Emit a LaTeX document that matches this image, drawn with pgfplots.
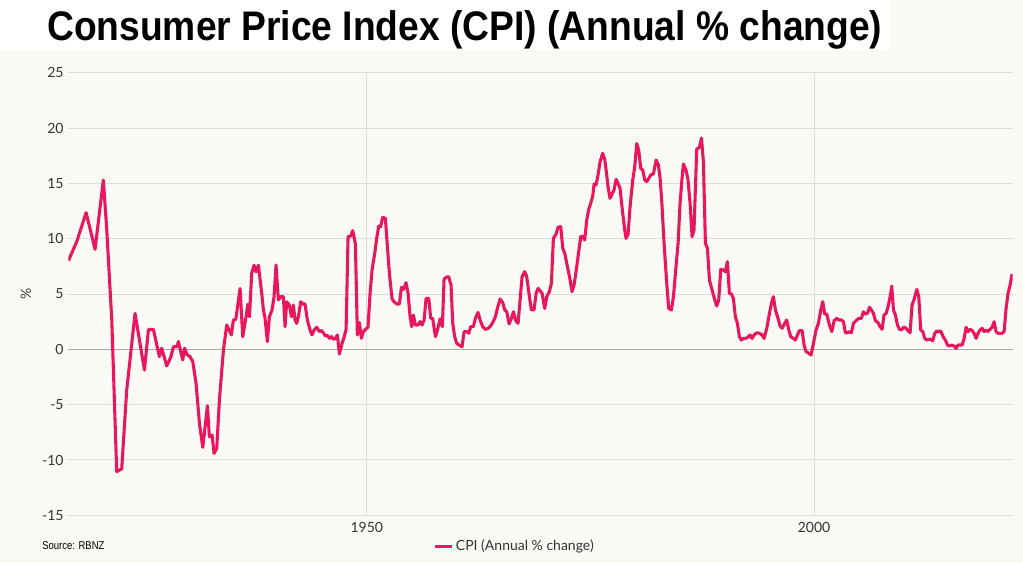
\documentclass[border=0pt]{standalone}
\usepackage{graphicx}
\usepackage{pgfplots}
\pgfplotsset{compat=1.18}
\usepackage{fontspec}
\setmainfont{Lato}
\newfontfamily\titlefont{Liberation Sans}
\definecolor{cpi}{HTML}{E8175D}
\definecolor{bg}{HTML}{F9F9F6}
\definecolor{gridc}{HTML}{DCDCD9}
\definecolor{zeroc}{HTML}{A9A9A6}
\definecolor{tickc}{HTML}{333333}
\pgfplotstableread{
year value
1916.65 8.01
1917.58 9.73
1918.63 12.35
1919.63 9.04
1920.56 15.30
1920.94 10.80
1921.50 2.65
1922.05 -11.05
1922.61 -10.80
1923.17 -3.67
1924.10 3.25
1925.15 -1.87
1925.60 1.80
1926.15 1.80
1926.82 -0.66
1927.08 0.10
1927.64 -1.50
1928.09 -0.72
1928.39 0.24
1928.76 0.24
1928.95 0.70
1929.43 -0.96
1929.65 0.10
1929.88 -0.45
1930.25 -0.66
1930.55 -1.10
1930.92 -3.07
1931.30 -6.70
1931.67 -8.86
1932.19 -5.10
1932.41 -7.90
1932.71 -7.74
1932.93 -9.40
1933.23 -8.95
1933.53 -4.58
1933.98 -0.06
1934.35 2.20
1934.87 1.30
1935.09 2.65
1935.36 2.70
1935.84 5.50
1936.14 1.14
1936.51 2.95
1936.70 4.07
1936.89 2.95
1937.14 6.87
1937.40 7.60
1937.63 7.00
1937.89 7.60
1938.26 5.06
1938.45 3.56
1938.63 2.80
1938.89 0.70
1939.12 2.95
1939.41 3.56
1939.64 4.76
1939.86 7.62
1940.12 4.46
1940.38 4.76
1940.68 4.76
1940.87 2.05
1941.05 4.30
1941.35 4.00
1941.58 2.95
1941.80 4.00
1941.98 2.65
1942.17 2.35
1942.36 2.95
1942.62 4.30
1942.84 4.10
1943.10 4.10
1943.36 2.65
1943.66 1.75
1943.88 1.30
1944.11 1.75
1944.41 2.00
1944.70 1.60
1944.93 1.70
1945.15 1.50
1945.38 1.20
1945.60 1.27
1945.82 1.00
1946.05 1.15
1946.27 0.90
1946.49 1.00
1946.72 1.30
1946.94 -0.42
1947.24 0.54
1947.46 1.08
1947.69 1.80
1947.91 10.18
1948.21 10.24
1948.43 10.73
1948.73 9.52
1948.95 1.30
1949.18 2.41
1949.40 1.00
1949.62 1.60
1949.85 1.80
1950.14 2.00
1950.37 5.06
1950.59 7.17
1950.89 8.68
1951.11 10.03
1951.34 11.15
1951.56 11.09
1951.78 11.93
1952.08 11.84
1952.31 9.28
1952.53 6.87
1952.83 4.55
1953.05 4.30
1953.35 4.10
1953.65 4.10
1953.87 5.60
1954.10 5.42
1954.39 6.03
1954.62 5.06
1954.84 2.95
1955.03 2.05
1955.21 3.10
1955.44 2.20
1955.73 2.20
1955.96 2.50
1956.18 2.20
1956.41 2.65
1956.63 4.60
1956.93 4.60
1957.15 2.80
1957.37 2.80
1957.67 1.15
1957.89 1.70
1958.19 2.75
1958.45 2.05
1958.64 6.35
1958.94 6.55
1959.16 6.55
1959.42 5.80
1959.61 2.35
1959.83 1.15
1960.06 0.54
1960.36 0.36
1960.65 0.24
1960.88 1.60
1961.17 1.60
1961.40 1.45
1961.62 2.05
1961.92 2.05
1962.14 2.80
1962.44 3.34
1962.67 2.65
1962.96 2.05
1963.26 1.80
1963.56 1.90
1963.78 2.05
1964.08 2.41
1964.38 2.95
1964.60 3.70
1964.90 4.55
1965.20 4.22
1965.42 3.56
1965.65 3.40
1965.91 2.29
1966.17 2.80
1966.39 3.40
1966.62 2.65
1966.91 2.35
1967.14 4.46
1967.36 6.57
1967.66 7.02
1967.88 6.57
1968.18 4.76
1968.40 3.56
1968.70 3.56
1968.93 5.06
1969.15 5.51
1969.37 5.30
1969.60 5.06
1969.89 3.70
1970.12 4.76
1970.41 5.21
1970.64 5.97
1970.86 10.03
1971.16 10.42
1971.38 11.03
1971.68 11.09
1971.91 9.13
1972.13 8.68
1972.43 7.47
1972.73 6.27
1972.95 5.21
1973.17 5.80
1973.47 7.47
1973.69 8.83
1973.92 10.18
1974.14 10.24
1974.36 9.88
1974.59 11.69
1974.81 12.65
1975.03 13.20
1975.26 13.86
1975.41 14.94
1975.63 14.85
1975.85 15.76
1976.08 16.96
1976.37 17.72
1976.60 17.17
1976.82 15.76
1976.97 14.70
1977.19 13.65
1977.42 14.04
1977.64 14.40
1977.87 15.37
1978.09 15.00
1978.31 14.55
1978.61 12.30
1978.83 10.80
1978.98 10.03
1979.21 10.40
1979.43 12.90
1979.73 15.30
1979.95 16.50
1980.18 18.60
1980.40 18.00
1980.62 16.36
1980.85 16.20
1981.07 15.30
1981.30 15.15
1981.52 15.45
1981.74 15.76
1982.04 15.85
1982.34 17.11
1982.60 16.66
1982.79 15.45
1983.01 12.90
1983.23 9.58
1983.53 5.97
1983.75 3.70
1984.05 3.55
1984.28 4.76
1984.50 6.87
1984.80 9.58
1985.02 13.20
1985.24 15.45
1985.39 16.75
1985.69 16.20
1985.91 15.30
1986.14 13.20
1986.36 10.18
1986.58 10.79
1986.88 18.08
1987.18 18.26
1987.41 19.10
1987.63 16.96
1987.85 9.58
1988.08 9.13
1988.30 6.27
1988.60 5.36
1988.90 4.46
1989.12 3.92
1989.34 4.46
1989.57 7.23
1989.86 7.17
1990.09 7.02
1990.31 7.92
1990.53 5.06
1990.76 5.00
1990.98 4.61
1991.20 2.95
1991.43 2.35
1991.65 1.14
1991.88 0.84
1992.10 0.99
1992.32 0.99
1992.55 1.05
1992.84 1.30
1993.07 0.99
1993.29 1.30
1993.59 1.50
1993.89 1.45
1994.19 1.30
1994.41 0.99
1994.71 1.90
1995.01 3.25
1995.23 4.16
1995.45 4.76
1995.68 3.56
1995.97 2.80
1996.20 2.11
1996.42 1.90
1996.72 2.35
1996.94 2.65
1997.17 1.75
1997.39 1.14
1997.69 0.99
1997.91 0.84
1998.14 1.30
1998.36 1.69
1998.66 1.69
1998.88 0.39
1999.10 -0.21
1999.40 -0.36
1999.66 -0.51
1999.93 0.54
2000.22 1.75
2000.48 2.35
2000.75 3.56
2000.97 4.31
2001.19 3.19
2001.42 3.19
2001.71 2.20
2001.98 1.60
2002.24 2.59
2002.53 2.80
2002.76 2.65
2003.06 2.65
2003.28 2.50
2003.50 1.50
2003.73 1.50
2003.95 1.60
2004.17 1.50
2004.40 2.35
2004.69 2.59
2004.99 2.80
2005.29 2.80
2005.51 3.40
2005.74 3.19
2005.96 3.25
2006.19 3.80
2006.41 3.56
2006.63 3.25
2006.86 2.59
2007.15 2.41
2007.38 2.05
2007.60 1.81
2007.82 3.10
2008.05 3.25
2008.27 3.86
2008.50 4.76
2008.68 5.72
2008.87 3.56
2009.09 3.10
2009.32 2.20
2009.54 1.81
2009.76 1.75
2009.99 1.99
2010.21 1.96
2010.43 1.75
2010.73 1.50
2010.95 4.00
2011.18 4.52
2011.48 5.42
2011.70 4.76
2011.92 1.75
2012.15 1.60
2012.37 0.99
2012.59 0.84
2012.82 0.90
2013.04 0.90
2013.26 0.78
2013.49 1.45
2013.71 1.66
2013.94 1.60
2014.16 1.66
2014.46 1.08
2014.68 0.84
2014.90 0.39
2015.13 0.30
2015.35 0.39
2015.65 0.30
2015.87 0.09
2016.09 0.39
2016.32 0.39
2016.54 0.39
2016.77 0.99
2016.99 1.99
2017.21 1.60
2017.44 1.81
2017.66 1.69
2017.88 1.45
2018.11 0.99
2018.33 1.45
2018.55 1.75
2018.78 1.90
2019.00 1.60
2019.23 1.75
2019.45 1.60
2019.67 1.81
2019.90 1.99
2020.12 2.50
2020.34 1.60
2020.57 1.45
2020.79 1.45
2021.01 1.45
2021.24 1.60
2021.46 3.70
2021.68 5.06
2021.91 5.81
2022.13 6.81
}\cpidata
\begin{document}
\begin{tikzpicture}
\path[use as bounding box, fill=bg] (0pt,0pt) rectangle (767.25pt,-421.5pt);
\fill[white] (0pt,0pt) rectangle (667.5pt,-37.5pt);
\node[anchor=base west, inner sep=0pt, font=\titlefont\bfseries\fontsize{31}{33}\selectfont] at (35.25pt,-30pt) {\scalebox{0.9}[1]{Consumer Price Index (CPI) (Annual \% change)}};
\node[anchor=base west, inner sep=0pt, font=\titlefont\fontsize{8.5}{10}\selectfont, text=black] at (31.5pt,-412.2pt) {\scalebox{0.84}[1]{Source: RBNZ}};
\begin{axis}[
  at={(51.225pt,-386.475pt)}, anchor=south west,
  scale only axis, width=708.3pt, height=331.95pt,
  xmin=1916.64, xmax=2022.2, ymin=-15, ymax=25,
  xtick={1950,2000}, xticklabels={1950,2000},
  ytick={-15,-10,-5,0,5,10,15,20,25},
  yticklabels={-15,-10,-5,0,5,10,15,20,25},
  extra y ticks={0}, extra y tick labels={},
  extra y tick style={grid style={zeroc, line width=0.8pt}},
  xmajorgrids, ymajorgrids,
  grid style={gridc, line width=0.75pt},
  axis line style={draw=none},
  major tick length=0pt,
  tick label style={font=\fontsize{10.5}{12}\selectfont, text=tickc},
  xticklabel style={yshift=-1.5pt},
  ylabel={\%},
  ylabel style={at={(axis description cs:-0.0448,0.5)}, anchor=center, font=\fontsize{10.5}{12}\selectfont, text=tickc},
  legend style={at={(axis description cs:0.3862,-0.0694)}, anchor=west, draw=none, fill=none,
    font=\fontsize{10.5}{12}\selectfont, text=tickc, inner sep=0pt},
  legend image code/.code={\draw[cpi, line width=2.25pt] (0pt,0pt) -- (12.75pt,0pt);},
]
\addplot[cpi, line width=2.3pt, line join=round, no markers] table[x=year, y=value] {\cpidata};
\addlegendentry{CPI (Annual \% change)}
\end{axis}
\end{tikzpicture}
\end{document}
